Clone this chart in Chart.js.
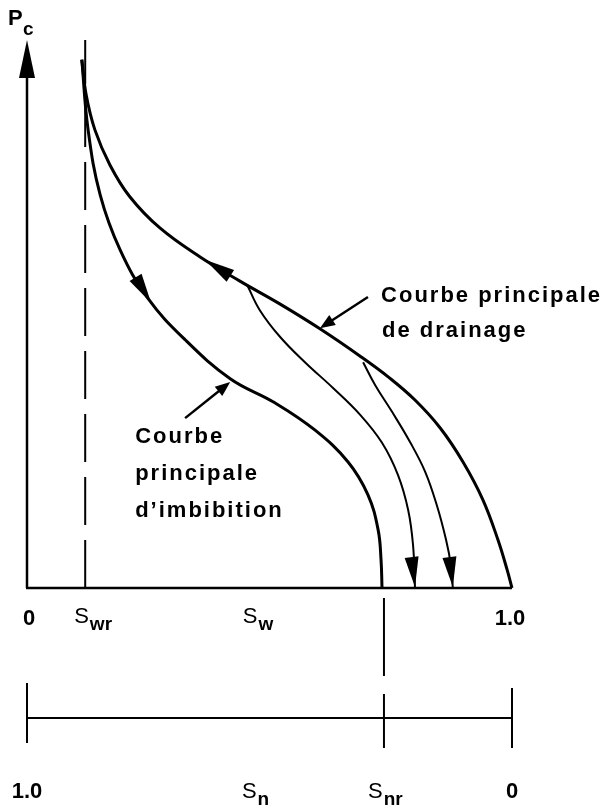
<!DOCTYPE html>
<html>
<head>
<meta charset="utf-8">
<script src="https://cdn.jsdelivr.net/npm/chart.js@4.4.0/dist/chart.umd.min.js"></script>
<style>
  body { margin: 0; background: #fff; }
  canvas { display: block; }
</style>
</head>
<body>
<canvas id="pcChart" width="608" height="808"></canvas>
<script>
// Sw = saturation en eau (0..1), Pc = pression capillaire (unité relative)

var drainageSw = [0.113, 0.122, 0.140, 0.171, 0.212, 0.274, 0.357, 0.439, 0.522, 0.604, 0.687, 0.748, 0.800, 0.852, 0.899, 0.940, 0.971, 0.990, 1.000];
var drainagePc = [0.964, 0.900, 0.836, 0.772, 0.714, 0.657, 0.604, 0.560, 0.518, 0.473, 0.423, 0.383, 0.343, 0.292, 0.230, 0.161, 0.088, 0.033, 0.000];

var imbibitionSw = [0.113, 0.126, 0.151, 0.192, 0.249, 0.326, 0.419, 0.511, 0.594, 0.662, 0.703, 0.724, 0.730, 0.732];
var imbibitionPc = [0.964, 0.836, 0.717, 0.617, 0.529, 0.453, 0.382, 0.338, 0.288, 0.230, 0.170, 0.106, 0.051, 0.000];

var scan1Sw = [0.454, 0.480, 0.522, 0.573, 0.631, 0.687, 0.732, 0.765, 0.786, 0.796, 0.800];
var scan1Pc = [0.553, 0.507, 0.458, 0.412, 0.365, 0.316, 0.265, 0.206, 0.142, 0.078, 0.000];

var scan2Sw = [0.693, 0.718, 0.753, 0.790, 0.821, 0.845, 0.864, 0.874, 0.878];
var scan2Pc = [0.412, 0.370, 0.321, 0.266, 0.212, 0.151, 0.088, 0.042, 0.000];

var swr = 0.12;          // saturation en eau irréductible
var snr = 0.264;         // saturation résiduelle non mouillante

var swTicks = [0, 1];
var swTickLabels = ["0", "1.0"];
var snTicks = [1, 0];
var snTickLabels = ["1.0", "0"];

// flèches sur les courbes : [Sw pointe, Pc pointe, Sw arrière, Pc arrière]
var curveArrows = [
  [0.367, 0.599, 0.433, 0.562],
  [0.256, 0.520, 0.223, 0.568],
  [0.800, 0.002, 0.792, 0.064],
  [0.878, 0.002, 0.870, 0.064]
];

// flèches des légendes : [Sw départ, Pc départ, Sw pointe, Pc pointe]
var pointerArrows = [
  [0.703, 0.531, 0.604, 0.474],
  [0.326, 0.310, 0.419, 0.376]
];

var drainageText = ["Courbe principale", "de drainage"];
var drainageTextPos = [[0.730, 0.522], [0.732, 0.458]];
var imbibitionText = ["Courbe", "principale", "d\u2019imbibition"];
var imbibitionTextPos = [[0.223, 0.265], [0.223, 0.197], [0.223, 0.130]];

function toPoints(xs, ys) {
  var pts = [];
  for (var i = 0; i < xs.length; i++) {
    pts.push({ x: xs[i], y: ys[i] });
  }
  return pts;
}

function curve(data, width) {
  return {
    data: data,
    showLine: true,
    borderColor: '#000',
    borderWidth: width,
    pointRadius: 0,
    tension: 0.4,
    clip: false
  };
}

function arrowHead(ctx, tx, ty, bx, by, len, half) {
  var dx = tx - bx, dy = ty - by;
  var d = Math.sqrt(dx * dx + dy * dy);
  dx /= d; dy /= d;
  var cx = tx - dx * len, cy = ty - dy * len;
  ctx.beginPath();
  ctx.moveTo(tx, ty);
  ctx.lineTo(cx - dy * half, cy + dx * half);
  ctx.lineTo(cx + dy * half, cy - dx * half);
  ctx.closePath();
  ctx.fill();
}

// texte avec indice (S + wr, P + c ...)
function subLabel(ctx, main, sub, left, base) {
  ctx.textAlign = 'left';
  ctx.font = '22px "Liberation Sans"';
  ctx.fillText(main, left, base);
  var w = ctx.measureText(main).width;
  ctx.font = 'bold 19px "Liberation Sans"';
  ctx.fillText(sub, left + w + 1, base + 7);
}

var extras = {
  id: 'extras',
  afterDraw: function (chart) {
    var ctx = chart.ctx;
    var x = chart.scales.x, y = chart.scales.y, xn = chart.scales.xn;
    var area = chart.chartArea;
    var x0 = x.getPixelForValue(0), x1 = x.getPixelForValue(1);
    var y0 = y.getPixelForValue(0), yTop = area.top;
    var nLine = y0 + 130;

    ctx.save();
    ctx.strokeStyle = '#000';
    ctx.fillStyle = '#000';
    ctx.lineCap = 'butt';

    // axes Pc et Sw
    ctx.lineWidth = 2.5;
    ctx.beginPath();
    ctx.moveTo(x0, y0); ctx.lineTo(x0, yTop + 20);
    ctx.moveTo(x0 - 1, y0); ctx.lineTo(x1, y0);
    ctx.stroke();
    arrowHead(ctx, x0, yTop, x0, yTop + 10, 38, 8);

    // Swr en tirets (du bas vers le haut)
    var xs = x.getPixelForValue(swr);
    ctx.lineWidth = 2;
    ctx.setLineDash([48, 15]);
    ctx.beginPath();
    ctx.moveTo(xs, y0); ctx.lineTo(xs, yTop);
    ctx.stroke();

    // Snr en tirets vers l'échelle Sn
    var xr = xn.getPixelForValue(snr);
    ctx.setLineDash([78, 18]);
    ctx.beginPath();
    ctx.moveTo(xr, y0 + 10); ctx.lineTo(xr, nLine + 30);
    ctx.stroke();
    ctx.setLineDash([]);

    // échelle Sn
    var n0 = xn.getPixelForValue(1), n1 = xn.getPixelForValue(0);
    ctx.lineWidth = 2;
    ctx.beginPath();
    ctx.moveTo(n0, nLine); ctx.lineTo(n1, nLine);
    ctx.moveTo(n0, nLine - 35); ctx.lineTo(n0, nLine + 25);
    ctx.moveTo(n1, nLine - 30); ctx.lineTo(n1, nLine + 30);
    ctx.stroke();

    // flèches sur les courbes
    curveArrows.forEach(function (a) {
      arrowHead(ctx, x.getPixelForValue(a[0]), y.getPixelForValue(a[1]),
        x.getPixelForValue(a[2]), y.getPixelForValue(a[3]), 30, 7);
    });

    // flèches des légendes
    ctx.lineWidth = 2.5;
    pointerArrows.forEach(function (a) {
      var sx = x.getPixelForValue(a[0]), sy = y.getPixelForValue(a[1]);
      var tx = x.getPixelForValue(a[2]), ty = y.getPixelForValue(a[3]);
      ctx.beginPath();
      ctx.moveTo(sx, sy); ctx.lineTo(tx + (sx - tx) * 0.2, ty + (sy - ty) * 0.2);
      ctx.stroke();
      arrowHead(ctx, tx, ty, sx, sy, 15, 6);
    });

    // textes des courbes
    ctx.font = 'bold 22px "Liberation Sans"';
    ctx.letterSpacing = '2px';
    ctx.textAlign = 'left';
    ctx.textBaseline = 'alphabetic';
    drainageText.forEach(function (t, i) {
      ctx.fillText(t, x.getPixelForValue(drainageTextPos[i][0]), y.getPixelForValue(drainageTextPos[i][1]));
    });
    imbibitionText.forEach(function (t, i) {
      ctx.fillText(t, x.getPixelForValue(imbibitionTextPos[i][0]), y.getPixelForValue(imbibitionTextPos[i][1]));
    });
    ctx.letterSpacing = '0px';

    // graduations Sw
    ctx.font = 'bold 22px "Liberation Sans"';
    ctx.textAlign = 'center';
    swTicks.forEach(function (v, i) {
      ctx.fillText(swTickLabels[i], x.getPixelForValue(v) + (v === 0 ? 2 : -2), y0 + 37);
    });
    subLabel(ctx, 'S', 'wr', xs - 11, y0 + 35);
    subLabel(ctx, 'S', 'w', x.getPixelForValue(0.445), y0 + 35);

    // graduations Sn
    ctx.font = 'bold 22px "Liberation Sans"';
    ctx.textAlign = 'center';
    snTicks.forEach(function (v, i) {
      ctx.fillText(snTickLabels[i], xn.getPixelForValue(v), y0 + 210);
    });
    subLabel(ctx, 'S', 'n', xn.getPixelForValue(0.526) - 15, y0 + 210);
    subLabel(ctx, 'S', 'nr', xr - 16, y0 + 210);

    // titre Pc
    ctx.font = 'bold 22px "Liberation Sans"';
    ctx.textAlign = 'left';
    ctx.fillText('P', x0 - 19, yTop - 15);
    ctx.font = 'bold 19px "Liberation Sans"';
    ctx.fillText('c', x0 - 4, yTop - 5);

    ctx.restore();
  }
};

var chart = new Chart(document.getElementById('pcChart'), {
  type: 'scatter',
  data: {
    datasets: [
      curve(toPoints(drainageSw, drainagePc), 3),
      curve(toPoints(imbibitionSw, imbibitionPc), 3),
      curve(toPoints(scan1Sw, scan1Pc), 2),
      curve(toPoints(scan2Sw, scan2Pc), 2)
    ]
  },
  options: {
    responsive: false,
    animation: false,
    devicePixelRatio: 1,
    layout: { padding: { left: 27, right: 96, top: 40, bottom: 220 } },
    plugins: { legend: { display: false }, tooltip: { enabled: false } },
    scales: {
      x: { type: 'linear', min: 0, max: 1, display: false },
      xn: { type: 'linear', axis: 'x', position: 'bottom', reverse: true, min: 0, max: 1, display: false },
      y: { type: 'linear', min: 0, max: 1, display: false }
    }
  },
  plugins: [extras]
});
</script>
</body>
</html>
